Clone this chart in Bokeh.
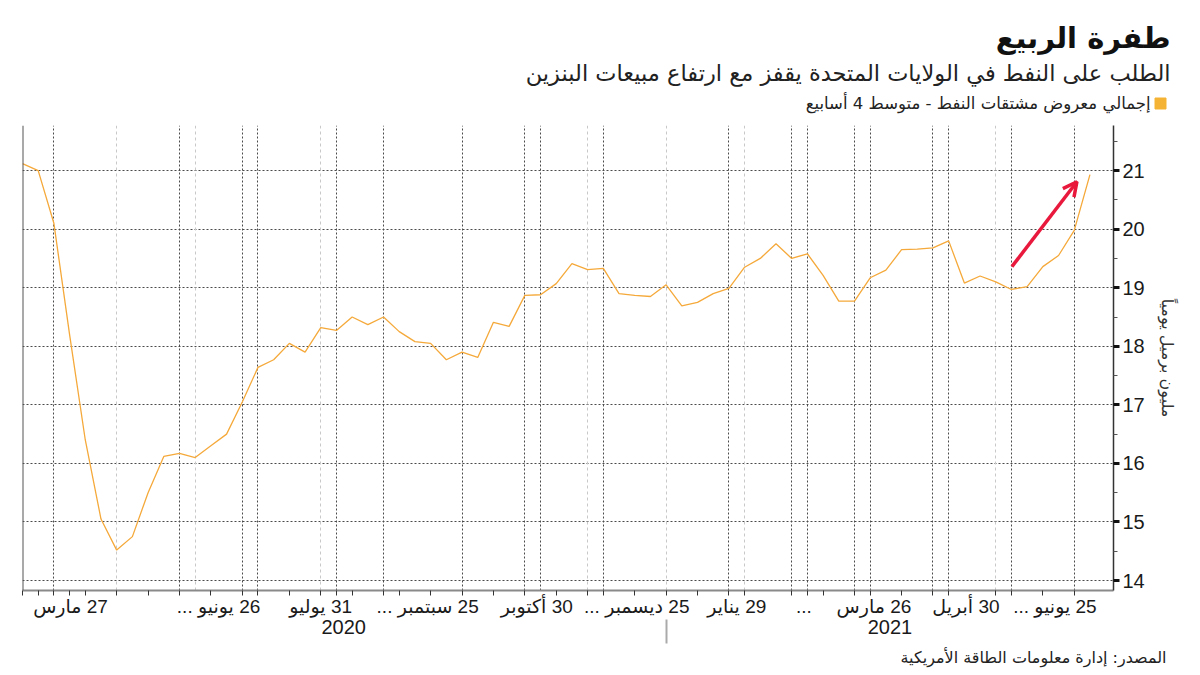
from bokeh.plotting import figure
from bokeh.layouts import column
from bokeh.models import (Range1d, FixedTicker, LinearAxis, Grid, Span,
                          Arrow, OpenHead, ColumnDataSource)
from bokeh.core.properties import value
from bokeh.embed import file_html
from bokeh.resources import INLINE

# ---------------- data ----------------
supply = [21.12, 21.0, 20.1, 18.2, 16.4, 15.05, 14.52, 14.75, 15.5, 16.12,
          16.17, 16.1, 16.3, 16.5, 17.05, 17.64, 17.77, 18.05, 17.9, 18.32,
          18.27, 18.5, 18.37, 18.5, 18.25, 18.08, 18.05, 17.77, 17.9, 17.81,
          18.41, 18.34, 18.87, 18.88, 19.07, 19.41, 19.31, 19.33, 18.9, 18.87,
          18.85, 19.05, 18.69, 18.75, 18.9, 18.99, 19.35, 19.5, 19.75, 19.5,
          19.58, 19.21, 18.77, 18.77, 19.17, 19.3, 19.65, 19.66, 19.68, 19.8,
          19.08, 19.2, 19.1, 18.97, 19.02, 19.36, 19.55, 19.98, 20.93]
weeks = list(range(len(supply)))

x_label_pos = [3.06, 12.49, 18.99, 25.81, 32.76, 39.13, 45.5, 49.78, 54.24, 60.1, 65.77]
x_labels = ["27 مارس", "26 يونيو ...", "31 يوليو", "25 سبتمبر ...", "30 أكتوبر",
            "25 ديسمبر ...", "29 يناير", "...", "26 مارس", "30 أبريل", "25 يونيو ..."]
x_tick_marks = [0, 1, 2, 3, 4, 6, 8, 10, 12, 14, 15, 17, 19, 20, 21, 23, 24, 26, 28,
                30, 32, 34, 36, 37, 39, 41, 43, 45, 46, 49, 50, 51, 53, 54, 56, 58,
                59, 62, 63, 65, 67]
year_pos = [20.46, 55.26]
year_labels = ["2020", "2021"]
year_sep = [41.0]
grid_dark = [2, 10, 14, 15, 20, 23, 28, 32, 33, 37, 45, 49, 50, 53, 54, 58, 59, 63, 67]
grid_light = [6, 11, 19, 36, 41, 46, 62]
y_ticks = [14, 15, 16, 17, 18, 19, 20, 21]
y_minor = [14.5, 15.5, 16.5, 17.5, 18.5, 19.5, 20.5, 21.5]

arrow_start = (63.03, 19.36)
arrow_end = (67.17, 20.81)

title = "طفرة الربيع"
subtitle = "الطلب على النفط في الولايات المتحدة يقفز مع ارتفاع مبيعات البنزين"
legend_text = "إجمالي معروض مشتقات النفط - متوسط 4 أسابيع"
source_text = "المصدر: إدارة معلومات الطاقة الأمريكية"
y_title = "مليون برميل يومياً"

ARABIC = "DejaVu Sans"
MIXED = "Liberation Sans, DejaVu Sans"
RLM = "\u200f"
LINE_COLOR = "#f5a93a"
LEGEND_COLOR = "#f5b335"
ARROW_COLOR = "#e8193c"

W = 1200
HEADER_H = 125
MAIN_H = 520
FOOTER_H = 30


def blank_fig(h):
    f = figure(width=W, height=h, output_backend="svg", toolbar_location=None,
               x_range=Range1d(0, W), y_range=Range1d(h, 0),
               x_axis_location=None, y_axis_location=None,
               min_border=0, outline_line_color=None,
               background_fill_color="white", border_fill_color="white")
    f.xgrid.visible = False
    f.ygrid.visible = False
    f.frame_align = False
    return f


# ---------------- header ----------------
header = blank_fig(HEADER_H)
header.text(x=[1170], y=[37], text=[title], text_align="right", text_baseline="middle",
            text_font=value(ARABIC), text_font_size="29px", text_font_style="bold",
            text_color="#111111")
header.text(x=[1170], y=[72], text=[subtitle], text_align="right", text_baseline="middle",
            text_font=value(ARABIC), text_font_size="22.5px", text_color="#222222")
header.text(x=[1150], y=[103], text=[legend_text], text_align="right", text_baseline="middle",
            text_font=value(ARABIC), text_font_size="16.5px", text_color="#222222")
header.scatter(x=[1160], y=[103], marker="square", size=11, color=LEGEND_COLOR)

# ---------------- main chart ----------------
FL, FR = 22, 1113
p = figure(width=W, height=MAIN_H, output_backend="svg", toolbar_location=None,
           x_range=Range1d(0, 69.5), y_range=Range1d(13.83, 21.77),
           y_axis_location="right",
           min_border_left=FL, min_border_right=W - FR,
           min_border_top=0, min_border_bottom=MAIN_H - 465,
           background_fill_color="white", border_fill_color="white",
           outline_line_color=None)

p.xgrid.ticker = FixedTicker(ticks=grid_dark)
p.xgrid.grid_line_color = "#4a4a4a"
p.xgrid.grid_line_dash = "2 2"
p.ygrid.ticker = FixedTicker(ticks=y_ticks)
p.ygrid.grid_line_color = "#4a4a4a"
p.ygrid.grid_line_dash = "2 2"
p.add_layout(Grid(dimension=0, ticker=FixedTicker(ticks=grid_light),
                  grid_line_color="#c8c8c8", grid_line_dash="3 3"))

p.add_layout(Span(location=0, dimension="height", line_color="#555555", line_width=2))

xa = p.xaxis[0]
xa.ticker = FixedTicker(ticks=x_label_pos, minor_ticks=x_tick_marks)
xa.major_label_overrides = {pos: RLM + lab + RLM for pos, lab in zip(x_label_pos, x_labels)}
xa.major_tick_line_color = None
xa.major_tick_out = 0
xa.major_tick_in = 0
xa.minor_tick_out = 5
xa.minor_tick_in = 0
xa.minor_tick_line_color = "#333333"
xa.axis_line_color = "#8a8a8a"
xa.axis_line_width = 2
xa.major_label_text_font = MIXED
xa.major_label_text_font_size = "19px"
xa.major_label_text_color = "#1a1a1a"
xa.major_label_standoff = 0

ya = LinearAxis(ticker=FixedTicker(ticks=year_pos, minor_ticks=year_sep),
                major_label_overrides={pos: lab for pos, lab in zip(year_pos, year_labels)},
                axis_line_color=None, major_tick_line_color=None,
                major_tick_out=0, major_tick_in=0,
                minor_tick_line_color="#aaaaaa", minor_tick_out=24, minor_tick_in=0,
                minor_tick_line_width=2,
                major_label_standoff=-24, major_label_text_font=MIXED,
                major_label_text_font_size="20px", major_label_text_color="#1a1a1a")
p.add_layout(ya, "below")

yax = p.yaxis[0]
yax.ticker = FixedTicker(ticks=y_ticks, minor_ticks=y_minor)
yax.major_tick_out = 6
yax.major_tick_in = 0
yax.major_tick_line_width = 3
yax.major_tick_line_color = "#111111"
yax.minor_tick_out = 4
yax.minor_tick_in = 0
yax.minor_tick_line_color = "#555555"
yax.axis_line_color = "#333333"
yax.axis_line_width = 1.5
yax.major_label_text_font = MIXED
yax.major_label_text_font_size = "20px"
yax.major_label_text_color = "#1a1a1a"
yax.major_label_standoff = 3
yax.axis_label = y_title
yax.axis_label_text_font = ARABIC
yax.axis_label_text_font_size = "16px"
yax.axis_label_text_font_style = "normal"
yax.axis_label_text_color = "#333333"
yax.axis_label_standoff = 10

src = ColumnDataSource(dict(week=weeks, supply=supply))
p.line("week", "supply", source=src, line_color=LINE_COLOR, line_width=1.3)

p.add_layout(Arrow(end=OpenHead(size=14, line_color=ARROW_COLOR, line_width=3.5),
                   x_start=arrow_start[0], y_start=arrow_start[1],
                   x_end=arrow_end[0], y_end=arrow_end[1],
                   line_color=ARROW_COLOR, line_width=3.5))

# ---------------- footer ----------------
footer = blank_fig(FOOTER_H)
footer.text(x=[1166], y=[12], text=[source_text], text_align="right", text_baseline="middle",
            text_font=value(ARABIC), text_font_size="16px", text_color="#222222")

layout = column(header, p, footer, spacing=0)
open("out.html", "w").write(file_html(layout, INLINE))
